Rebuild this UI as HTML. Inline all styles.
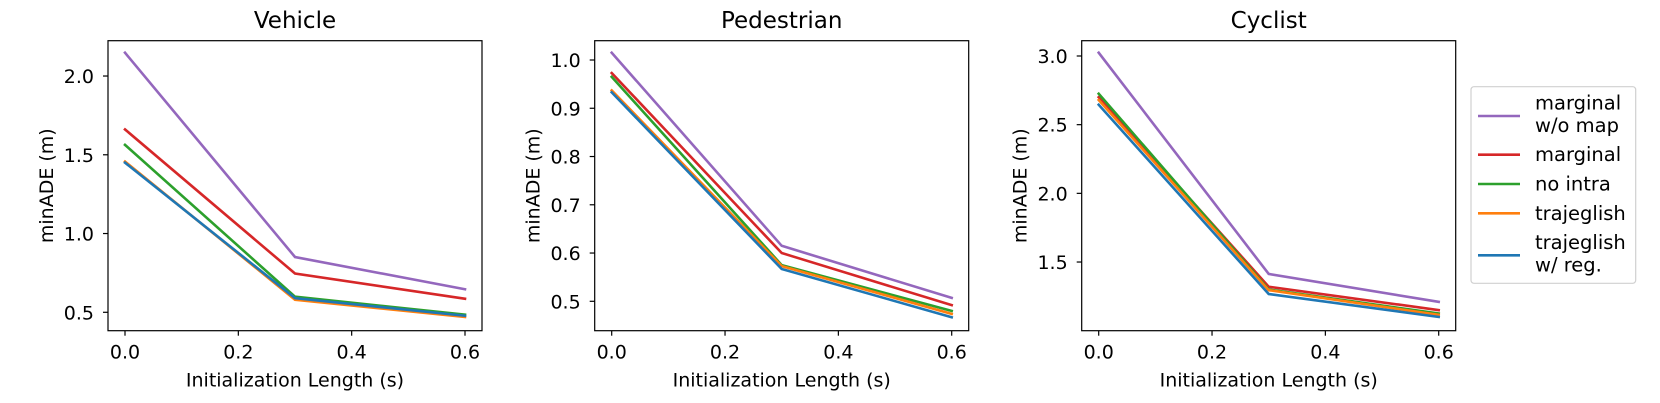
<!DOCTYPE html>
<html><head><meta charset="utf-8">
<style>
html,body{margin:0;padding:0;background:#fff;}
svg{display:block;font-family:"DejaVu Sans","Liberation Sans",sans-serif;}
</style></head>
<body>
<svg id="chart" width="1660" height="403" viewBox="0 0 1660 403" xmlns="http://www.w3.org/2000/svg"></svg>
<script>
const xValues = [0.0, 0.3, 0.6];
const seriesNames = ["marginal w/o map", "marginal", "no intra", "trajeglish", "trajeglish w/ reg."];
const seriesColors = ["#9467bd", "#d62728", "#2ca02c", "#ff7f0e", "#1f77b4"];
const xTicks = [0.0, 0.2, 0.4, 0.6];
const xTickLabels = ["0.0", "0.2", "0.4", "0.6"];

const vehicleTicks = [0.5, 1.0, 1.5, 2.0];
const vehicleTickLabels = ["0.5", "1.0", "1.5", "2.0"];
const vehiclePurple = [2.148, 0.851, 0.646];
const vehicleRed = [1.661, 0.746, 0.586];
const vehicleGreen = [1.563, 0.599, 0.485];
const vehicleOrange = [1.457, 0.580, 0.470];
const vehicleBlue = [1.450, 0.590, 0.478];

const pedTicks = [0.5, 0.6, 0.7, 0.8, 0.9, 1.0];
const pedTickLabels = ["0.5", "0.6", "0.7", "0.8", "0.9", "1.0"];
const pedPurple = [1.015, 0.615, 0.507];
const pedRed = [0.973, 0.600, 0.492];
const pedGreen = [0.965, 0.575, 0.480];
const pedOrange = [0.937, 0.573, 0.474];
const pedBlue = [0.933, 0.567, 0.467];

const cycTicks = [1.5, 2.0, 2.5, 3.0];
const cycTickLabels = ["1.5", "2.0", "2.5", "3.0"];
const cycPurple = [3.024, 1.413, 1.210];
const cycRed = [2.700, 1.320, 1.150];
const cycGreen = [2.725, 1.300, 1.125];
const cycOrange = [2.680, 1.295, 1.115];
const cycBlue = [2.645, 1.267, 1.100];

const panels = [
  {name:"vehicle", title:"Vehicle", left:108, right:482, yTicks:vehicleTicks, yLabels:vehicleTickLabels,
   yMin:0.5-(330.7-312.3)/157.4, yMax:2.0+(76-40.7)/157.4, series:[vehiclePurple,vehicleRed,vehicleGreen,vehicleOrange,vehicleBlue]},
  {name:"pedestrian", title:"Pedestrian", left:594.7, right:968.7, yTicks:pedTicks, yLabels:pedTickLabels,
   yMin:0.5-(330.7-301.3)/482.5, yMax:1.0+(60-40.7)/482.5, series:[pedPurple,pedRed,pedGreen,pedOrange,pedBlue]},
  {name:"cyclist", title:"Cyclist", left:1081.7, right:1455.7, yTicks:cycTicks, yLabels:cycTickLabels,
   yMin:1.5-(330.7-262)/137.4, yMax:3.0+(56-40.7)/137.4, series:[cycPurple,cycRed,cycGreen,cycOrange,cycBlue]}
];
const TOP = 40.7, BOTTOM = 330.7;
const svg = document.getElementById('chart');
const NS = "http://www.w3.org/2000/svg";
function mk(tag, attrs, parent){
  const e = document.createElementNS(NS, tag);
  for (const k in attrs) e.setAttribute(k, attrs[k]);
  (parent||svg).appendChild(e);
  return e;
}
panels.forEach(p => {
  const g = mk('g', {});
  
  
  const xr0 = p.left + (p.right - p.left) * 0.04545, xr1 = p.right - (p.right - p.left) * 0.04545;
  const xs = v => xr0 + (v - 0) / 0.6 * (xr1 - xr0);
  const ys = v => BOTTOM - (v - p.yMin) / (p.yMax - p.yMin) * (BOTTOM - TOP);
  p.series.forEach((arr, i) => {
    const pts = arr.map((v, j) => xs(xValues[j]).toFixed(2) + ',' + ys(v).toFixed(2)).join(' ');
    const l = mk('polyline', {points: pts, fill: 'none', stroke: seriesColors[i], 'stroke-width': 2.6, 'stroke-linejoin': 'miter', 'stroke-linecap': 'square'}, g);
    
    
  });
  const fr = mk('rect', {x: p.left, y: TOP, width: p.right - p.left, height: BOTTOM - TOP, fill: 'none', stroke: '#000', 'stroke-width': 1.2}, g);
  
  
  p.yTicks.forEach((v, i) => {
    const y = ys(v);
    mk('line', {x1: p.left - 5, x2: p.left, y1: y, y2: y, stroke: '#000', 'stroke-width': 1.2}, g);
    const t = mk('text', {x: p.left - 14, y: y + 7, 'text-anchor': 'end', 'font-size': 19, fill: '#000'}, g);
    t.textContent = p.yLabels[i];
    
    
  });
  xTicks.forEach((v, i) => {
    const x = xs(v);
    mk('line', {x1: x, x2: x, y1: BOTTOM, y2: BOTTOM + 5, stroke: '#000', 'stroke-width': 1.2}, g);
    const t = mk('text', {x: x, y: 358.5, 'text-anchor': 'middle', 'font-size': 19, fill: '#000'}, g);
    t.textContent = xTickLabels[i];
    
    
  });
  const cx = (p.left + p.right) / 2;
  const title = mk('text', {x: cx, y: 28, 'text-anchor': 'middle', 'font-size': 23, fill: '#000'}, g);
  title.textContent = p.title;
  
  
  const xl = mk('text', {x: cx, y: 386.5, 'text-anchor': 'middle', 'font-size': 19, fill: '#000'}, g);
  xl.textContent = 'Initialization Length (s)';
  
  
  const ylx = p.left - 62 + 7;
  const yl = mk('text', {x: ylx, y: 185.7, 'text-anchor': 'middle', 'font-size': 19, fill: '#000', transform: 'rotate(-90 ' + ylx + ' 185.7)'}, g);
  yl.textContent = 'minADE (m)';
  
  
});
const lg = mk('g', {});


mk('rect', {x: 1471, y: 86.7, width: 164.7, height: 196.6, rx: 3, fill: '#fff', stroke: '#d0d0d0', 'stroke-width': 1.2}, lg);
const legendLineY = [116, 154.7, 184, 213.3, 255.3];
const legendText = [["marginal", "w/o map"], ["marginal"], ["no intra"], ["trajeglish"], ["trajeglish", "w/ reg."]];
seriesNames.forEach((n, i) => {
  const e = mk('g', {}, lg);
  
  
  const y = legendLineY[i];
  mk('line', {x1: 1478, x2: 1520, y1: y, y2: y, stroke: seriesColors[i], 'stroke-width': 2.6}, e);
  const lines = legendText[i];
  lines.forEach((s, k) => {
    const ty = lines.length === 1 ? y + 6.5 : y - 6.5 + k * 22.5;
    const t = mk('text', {x: 1535, y: ty, 'font-size': 19.5, fill: '#000'}, e);
    t.textContent = s;
  });
});
</script>
</body></html>
